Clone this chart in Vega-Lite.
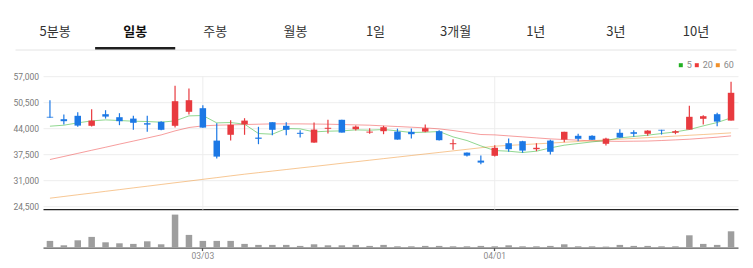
{
  "$schema": "https://vega.github.io/schema/vega-lite/v6.json",
  "background": "white",
  "padding": {"left": 12, "top": 25, "right": 16, "bottom": 4},
  "spacing": 10.2,
  "resolve": {"legend": {"color": "independent"}},
  "config": {
    "view": {"stroke": null},
    "axis": {"labelFont": "Roboto", "titleFont": "Roboto"},
    "axisY": {"labelOverlap": false},
    "legend": {"labelFont": "Roboto"}
  },
  "datasets": {
    "tabs": [
      {"tab": "5분봉", "sel": false},
      {"tab": "일봉", "sel": true},
      {"tab": "주봉", "sel": false},
      {"tab": "월봉", "sel": false},
      {"tab": "1일", "sel": false},
      {"tab": "3개월", "sel": false},
      {"tab": "1년", "sel": false},
      {"tab": "3년", "sel": false},
      {"tab": "10년", "sel": false}
    ],
    "grid": [{"d": "03/03"}, {"d": "04/01"}],
    "ohlc": [
      {"d": "02/10", "o": 46850, "h": 51000, "l": 46600, "c": 46650, "v": 402000, "m5": 44500, "m20": 36170, "m60": 26500},
      {"d": "02/11", "o": 46250, "h": 47400, "l": 44900, "c": 45750, "v": 138000, "m5": 44750, "m20": 36930, "m60": 26930},
      {"d": "02/12", "o": 47100, "h": 48000, "l": 44350, "c": 44650, "v": 438000, "m5": 45330, "m20": 37710, "m60": 27360},
      {"d": "02/13", "o": 44600, "h": 48750, "l": 44400, "c": 45900, "v": 642000, "m5": 45830, "m20": 38480, "m60": 27780},
      {"d": "02/19", "o": 47500, "h": 48500, "l": 46400, "c": 46900, "v": 318000, "m5": 46080, "m20": 39240, "m60": 28220},
      {"d": "02/20", "o": 46750, "h": 47750, "l": 44750, "c": 45750, "v": 258000, "m5": 45920, "m20": 40020, "m60": 28640},
      {"d": "02/23", "o": 46400, "h": 47100, "l": 43600, "c": 45350, "v": 222000, "m5": 45750, "m20": 40780, "m60": 29080},
      {"d": "02/24", "o": 45250, "h": 47100, "l": 43100, "c": 44900, "v": 378000, "m5": 45670, "m20": 41550, "m60": 29500},
      {"d": "02/25", "o": 45600, "h": 45750, "l": 43500, "c": 43600, "v": 198000, "m5": 45500, "m20": 42320, "m60": 29930},
      {"d": "02/26", "o": 44600, "h": 54600, "l": 44150, "c": 50750, "v": 1980000, "m5": 45830, "m20": 43330, "m60": 30360},
      {"d": "02/27", "o": 48100, "h": 53900, "l": 47400, "c": 51000, "v": 762000, "m5": 47080, "m20": 44170, "m60": 30780},
      {"d": "03/03", "o": 49000, "h": 49750, "l": 44100, "c": 44150, "v": 402000, "m5": 47170, "m20": 44580, "m60": 31220},
      {"d": "03/04", "o": 40900, "h": 45250, "l": 36400, "c": 36900, "v": 402000, "m5": 45330, "m20": 44750, "m60": 31640},
      {"d": "03/05", "o": 42350, "h": 46000, "l": 40900, "c": 44850, "v": 402000, "m5": 45420, "m20": 44830, "m60": 32080},
      {"d": "03/06", "o": 45000, "h": 46500, "l": 42350, "c": 45900, "v": 222000, "m5": 45000, "m20": 44920, "m60": 32500},
      {"d": "03/09", "o": 41650, "h": 44350, "l": 40000, "c": 41350, "v": 162000, "m5": 42670, "m20": 45000, "m60": 32890},
      {"d": "03/10", "o": 45500, "h": 45500, "l": 42250, "c": 43600, "v": 162000, "m5": 42500, "m20": 45080, "m60": 33280},
      {"d": "03/11", "o": 44600, "h": 45500, "l": 42250, "c": 43600, "v": 162000, "m5": 43920, "m20": 45080, "m60": 33670},
      {"d": "03/12", "o": 42850, "h": 43500, "l": 41650, "c": 42600, "v": 102000, "m5": 43830, "m20": 45080, "m60": 34060},
      {"d": "03/13", "o": 40400, "h": 45400, "l": 40350, "c": 43650, "v": 198000, "m5": 43080, "m20": 45040, "m60": 34440},
      {"d": "03/16", "o": 43850, "h": 46100, "l": 42650, "c": 44100, "v": 138000, "m5": 43250, "m20": 45000, "m60": 34830},
      {"d": "03/17", "o": 46100, "h": 46100, "l": 42900, "c": 42900, "v": 138000, "m5": 43330, "m20": 44920, "m60": 35230},
      {"d": "03/18", "o": 43750, "h": 44650, "l": 43400, "c": 44400, "v": 162000, "m5": 43580, "m20": 44830, "m60": 35610},
      {"d": "03/19", "o": 42900, "h": 44000, "l": 42600, "c": 43150, "v": 102000, "m5": 43500, "m20": 44750, "m60": 36000},
      {"d": "03/20", "o": 43250, "h": 44600, "l": 42500, "c": 44250, "v": 162000, "m5": 43670, "m20": 44580, "m60": 36390},
      {"d": "03/23", "o": 43150, "h": 43900, "l": 41150, "c": 41150, "v": 78000, "m5": 43330, "m20": 44420, "m60": 36780},
      {"d": "03/24", "o": 43100, "h": 43900, "l": 41400, "c": 42500, "v": 78000, "m5": 42920, "m20": 44250, "m60": 37170},
      {"d": "03/25", "o": 43150, "h": 44900, "l": 43000, "c": 44000, "v": 102000, "m5": 43000, "m20": 44080, "m60": 37560},
      {"d": "03/26", "o": 43250, "h": 43500, "l": 40900, "c": 41000, "v": 102000, "m5": 43170, "m20": 43830, "m60": 37940},
      {"d": "03/27", "o": 40000, "h": 41250, "l": 38600, "c": 40250, "v": 78000, "m5": 41830, "m20": 43420, "m60": 38330},
      {"d": "03/30", "o": 37900, "h": 37900, "l": 36900, "c": 37150, "v": 78000, "m5": 40920, "m20": 42920, "m60": 38720},
      {"d": "03/31", "o": 35900, "h": 37150, "l": 35000, "c": 35400, "v": 102000, "m5": 39580, "m20": 42420, "m60": 39110},
      {"d": "04/01", "o": 37100, "h": 39750, "l": 36900, "c": 39100, "v": 78000, "m5": 38420, "m20": 42330, "m60": 39500},
      {"d": "04/02", "o": 40250, "h": 41400, "l": 38100, "c": 38750, "v": 138000, "m5": 38250, "m20": 42080, "m60": 39700},
      {"d": "04/03", "o": 40750, "h": 40850, "l": 37850, "c": 38400, "v": 78000, "m5": 37920, "m20": 41830, "m60": 39890},
      {"d": "04/06", "o": 38750, "h": 40250, "l": 38250, "c": 39100, "v": 78000, "m5": 38250, "m20": 41580, "m60": 40080},
      {"d": "04/07", "o": 40900, "h": 41100, "l": 37400, "c": 38100, "v": 102000, "m5": 39080, "m20": 41330, "m60": 40280},
      {"d": "04/08", "o": 41150, "h": 43100, "l": 40500, "c": 43100, "v": 198000, "m5": 39750, "m20": 41170, "m60": 40480},
      {"d": "04/09", "o": 42100, "h": 42600, "l": 40750, "c": 41350, "v": 78000, "m5": 40170, "m20": 41000, "m60": 40670},
      {"d": "04/10", "o": 42100, "h": 42250, "l": 41050, "c": 41100, "v": 78000, "m5": 40580, "m20": 40830, "m60": 40870},
      {"d": "04/13", "o": 40100, "h": 41600, "l": 39650, "c": 41400, "v": 60000, "m5": 40920, "m20": 40750, "m60": 41060},
      {"d": "04/14", "o": 42850, "h": 43750, "l": 41600, "c": 41650, "v": 162000, "m5": 41580, "m20": 40710, "m60": 41250},
      {"d": "04/15", "o": 43000, "h": 43500, "l": 41850, "c": 42600, "v": 102000, "m5": 41920, "m20": 40750, "m60": 41450},
      {"d": "04/16", "o": 42600, "h": 43500, "l": 42100, "c": 43400, "v": 102000, "m5": 42250, "m20": 40790, "m60": 41640},
      {"d": "04/17", "o": 43600, "h": 43600, "l": 42400, "c": 43400, "v": 78000, "m5": 42670, "m20": 40920, "m60": 41830},
      {"d": "04/20", "o": 42850, "h": 43500, "l": 42500, "c": 43250, "v": 78000, "m5": 43080, "m20": 41080, "m60": 42030},
      {"d": "04/21", "o": 43650, "h": 49600, "l": 43650, "c": 46850, "v": 738000, "m5": 43670, "m20": 41250, "m60": 42230},
      {"d": "04/22", "o": 46350, "h": 47250, "l": 44900, "c": 47000, "v": 222000, "m5": 44580, "m20": 41500, "m60": 42420},
      {"d": "04/23", "o": 47500, "h": 47850, "l": 44500, "c": 45650, "v": 162000, "m5": 45420, "m20": 41750, "m60": 42620},
      {"d": "04/24", "o": 45900, "h": 55600, "l": 45900, "c": 52850, "v": 978000, "m5": 46580, "m20": 42080, "m60": 42830}
    ]
  },
  "vconcat": [
    {
      "data": {"name": "tabs"},
      "width": 695,
      "height": 2.5,
      "mark": {"type": "bar", "color": "#1f1f1f"},
      "encoding": {
        "x": {
          "field": "tab", "type": "nominal", "sort": null,
          "scale": {"type": "band", "paddingInner": 0, "paddingOuter": 0, "range": [-28, 693]},
          "axis": {
            "title": null, "orient": "bottom", "grid": false,
            "domainColor": "#e4e4e4", "domainWidth": 1,
            "ticks": false, "tickSize": 0,
            "labelAngle": 0, "labelPadding": -17.6, "labelBaseline": "middle",
            "labelFont": "Noto Sans CJK KR", "labelFontSize": 13,
            "labelColor": {"condition": {"test": "datum.value === '일봉'", "value": "#111111"}, "value": "#333333"},
            "labelFontWeight": {"condition": {"test": "datum.value === '일봉'", "value": "bold"}, "value": "normal"}
          }
        },
        "opacity": {"condition": {"test": "datum.sel", "value": 1}, "value": 0}
      }
    },
    {
      "data": {"name": "ohlc"},
      "width": 695,
      "height": 171.4,
      "encoding": {
        "x": {
          "field": "d", "type": "ordinal",
          "scale": {"paddingInner": 0, "paddingOuter": 0},
          "axis": {
            "title": null, "values": ["03/03", "04/01"], "labelAngle": 0,
            "domainColor": "#555555", "domainWidth": 1.3,
            "tickColor": "#555555", "tickSize": 3, "tickWidth": 1.3,
            "labelFontSize": 8.5, "labelColor": "#8a8a8a", "labelPadding": 1,
            "grid": false, "bandPosition": 0.5
          }
        }
      },
      "layer": [
        {
          "mark": {"type": "bar", "size": 6.5, "color": "#9e9e9e"},
          "encoding": {
            "y": {
              "field": "v", "type": "quantitative",
              "scale": {"domain": [0, 10284000], "nice": false},
              "axis": null
            }
          }
        },
        {
          "layer": [
            {
              "data": {"name": "grid"},
              "mark": {"type": "rule", "color": "#ededed", "strokeWidth": 1},
              "encoding": {
                "y": {
                  "datum": 57000, "type": "quantitative",
                  "scale": {"domain": [14150, 57000], "nice": false, "zero": false},
                  "axis": {
                    "title": null, "values": [23650, 24500, 31000, 37500, 44000, 50500, 57000], "format": ",d",
                    "tickCount": 20,
                    "labelExpr": "datum.value === 23650 ? '' : datum.label",
                    "domain": false, "ticks": false, "labelPadding": 4.5, "labelFontSize": 8.5,
                    "labelColor": "#7a7a7a", "labelOverlap": false,
                    "grid": true,
                    "gridColor": {"condition": {"test": "datum.value === 23650", "value": "#222222"}, "value": "#ededed"},
                    "gridWidth": {"condition": {"test": "datum.value === 23650", "value": 1.3}, "value": 1}
                  }
                },
                "y2": {"datum": 23650}
              }
            },
            {
              "mark": {"type": "line", "strokeWidth": 1, "opacity": 0.5},
              "encoding": {
                "y": {"field": "m60", "type": "quantitative"},
                "color": {
                  "datum": "60",
                  "scale": {"domain": ["5", "20", "60"], "range": ["#22b022", "#ee3b3b", "#f0902a"]},
                  "legend": {
                    "title": null, "orient": "none", "legendX": 633.3, "legendY": -15.5, "padding": 0,
                    "direction": "horizontal", "gridAlign": "none", "symbolType": "square", "symbolSize": 16,
                    "symbolStrokeWidth": 0, "symbolOpacity": 1,
                    "labelFontSize": 9, "labelColor": "#8a8a8a", "labelOffset": 1.5, "columnPadding": 0,
                    "encode": {"symbols": {"update": {"fill": {"scale": "color", "field": "value"}, "opacity": {"value": 1}}}}
                  }
                }
              }
            },
            {
              "mark": {"type": "line", "strokeWidth": 1, "opacity": 0.5},
              "encoding": {
                "y": {"field": "m20", "type": "quantitative"},
                "color": {"datum": "20"}
              }
            },
            {
              "mark": {"type": "line", "strokeWidth": 1, "opacity": 0.5},
              "encoding": {
                "y": {"field": "m5", "type": "quantitative"},
                "color": {"datum": "5"}
              }
            },
            {
              "mark": {"type": "rule", "strokeWidth": 1.2},
              "encoding": {
                "y": {"field": "l", "type": "quantitative"},
                "y2": {"field": "h"},
                "color": {"condition": {"test": "datum.c >= datum.o", "value": "#e83a3f"}, "value": "#1c78e5"}
              }
            },
            {
              "mark": {"type": "bar", "size": 6.5},
              "encoding": {
                "y": {"field": "o", "type": "quantitative"},
                "y2": {"field": "c"},
                "color": {"condition": {"test": "datum.c >= datum.o", "value": "#e83a3f"}, "value": "#1c78e5"}
              }
            }
          ]
        }
      ],
      "resolve": {"scale": {"y": "independent"}, "axis": {"y": "independent"}}
    }
  ]
}
